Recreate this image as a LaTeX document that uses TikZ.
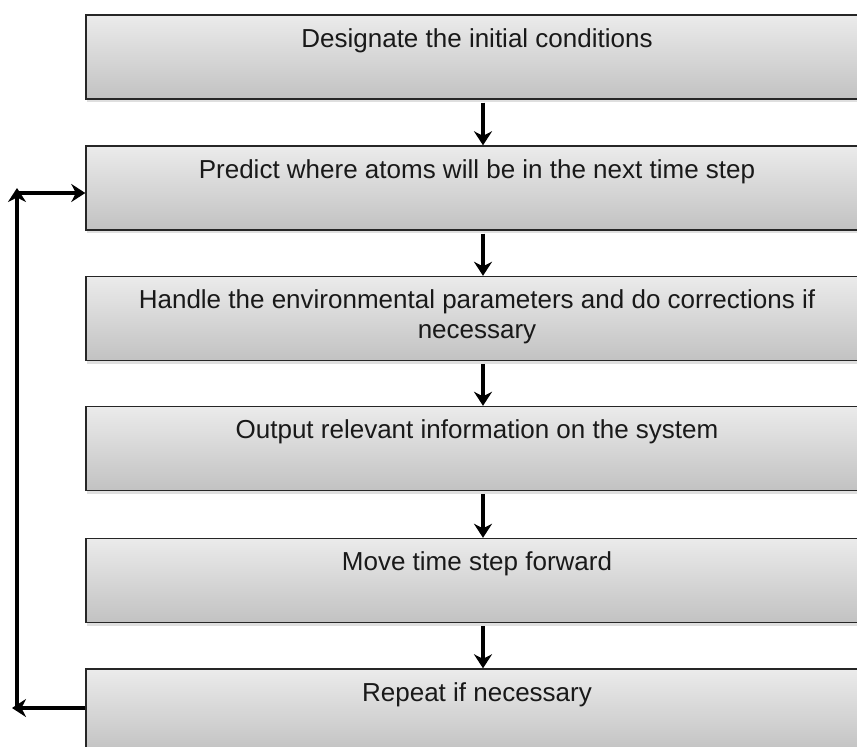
\documentclass[tikz,border=0pt]{standalone}
\usepackage{fontspec}
\setmainfont{Liberation Sans}
\usepackage{tikz}
\usetikzlibrary{arrows.meta,shadows}
\definecolor{boxtop}{HTML}{EBEBEB}
\definecolor{boxbot}{HTML}{C2C2C2}
\tikzset{>={Stealth[length=14pt,width=18pt]}}
\tikzset{
    stage/.style={rectangle,draw=black!85,line width=1.4pt,top color=boxtop,bottom color=boxbot,
        minimum width=782pt,inner xsep=4pt,inner ysep=0pt,text height=32pt,text depth=52pt,
        align=center,font=\fontsize{26}{30}\selectfont,text=black!90,
        drop shadow={opacity=0.25,shadow xshift=1pt,shadow yshift=-3pt}},
    twolines/.style={text height=62pt,text depth=22pt},
    flow/.style={line width=4.5pt},
}
\begin{document}
\begin{tikzpicture}[x=1pt,y=-1pt]
		\clip (0,0) rectangle (857,747);
		\fill[white] (0,0) rectangle (857,747);
		\node[stage] (b1) at (477,57) {Designate the initial conditions};
		\node[stage] (b2) at (477,188) {Predict where atoms will be in the next time step};
		\node[stage,twolines] (b3) at (477,318.5) {Handle the environmental parameters and do corrections if\\ necessary};
		\node[stage] (b4) at (477,448.5) {Output relevant information on the system};
		\node[stage] (b5) at (477,580.5) {Move time step forward};
		\node[stage] (b6) at (477,711) {Repeat if necessary};
	
		\draw[flow,->] ([xshift=6pt,yshift=-3pt]b1.south) -- ([xshift=6pt]b2.north);
		\draw[flow,->] ([xshift=6pt,yshift=-3pt]b2.south) -- ([xshift=6pt]b3.north);
		\draw[flow,->] ([xshift=6pt,yshift=-3pt]b3.south) -- ([xshift=6pt]b4.north);
		\draw[flow,->] ([xshift=6pt,yshift=-3pt]b4.south) -- ([xshift=6pt]b5.north);
		\draw[flow,->] ([xshift=6pt,yshift=-3pt]b5.south) -- ([xshift=6pt]b6.north);
	
		\coordinate (lb) at (12,708);
		\coordinate (lt) at (17,188);
		\draw[flow,->] ([yshift=3pt]b6.west) -- (lb);
		\draw[flow,->] (17,708) -- (lt);
		\draw[flow,->] (17,193) -- ([yshift=-5pt]b2.west);
	\end{tikzpicture}
\end{document}
